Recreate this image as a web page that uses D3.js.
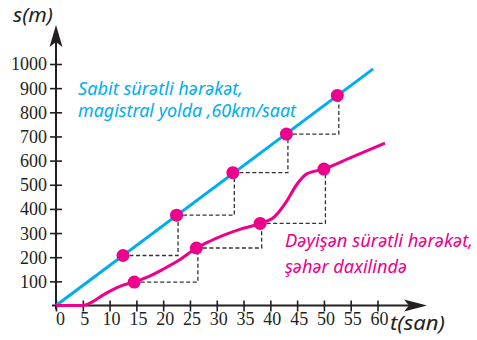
<!DOCTYPE html>
<html>
<head>
<meta charset="utf-8">
<script src="https://cdn.jsdelivr.net/npm/d3@7"></script>
<style>
  html, body { margin: 0; padding: 0; background: #fff; }
  svg { display: block; }
</style>
</head>
<body>
<script>
// ---- data ----
const xTicks = [0, 5, 10, 15, 20, 25, 30, 35, 40, 45, 50, 55, 60];
const yTicks = [100, 200, 300, 400, 500, 600, 700, 800, 900, 1000];

// constant speed line (60 km/h)
const blueLineT = [0, 59.2];
const blueLineS = [0, 980];
const blueDotT = [12.5, 22.5, 33, 43, 52.5];
const blueDotS = [207, 374, 550, 710, 870];

// variable speed curve (city)
const pinkT = [0, 5, 6.8, 8.7, 10.6, 12.4, 14.6, 16.8, 19.9, 23, 26.2, 28.7, 31.2, 34.3, 38.1, 40.8, 43, 44.9, 46.8, 50, 55, 61.4];
const pinkS = [0, 0, 15, 42, 66, 83, 97, 115, 149, 188, 238, 266, 290, 315, 340, 368, 430, 500, 545, 565, 612, 672];
const pinkDotT = [14.6, 26.2, 38.1, 50];
const pinkDotS = [97, 238, 340, 565];

const blueLabel = ["Sabit sürətli hərəkət,", "magistral yolda ,60km/saat"];
const pinkLabel = ["Dəyişən sürətli hərəkət,", "şəhər daxilində"];

// ---- drawing ----
const W = 477, H = 340;
const BLUE = "#00aeef", PINK = "#ec008c", INK = "#231f20";
const svg = d3.select("body").append("svg").attr("width", W).attr("height", H);

const x = d3.scaleLinear().domain([0, 60]).range([56, 377.5]);
const y = d3.scaleLinear().domain([0, 1000]).range([305.5, 64]);

const SERIF = "Liberation Serif, DejaVu Serif, serif";

// axes
const yAxis = d3.axisLeft(y).tickValues(yTicks).tickFormat(d3.format("d")).tickSize(6).tickPadding(3);
const gy = svg.append("g").attr("transform", `translate(${x(0)},0)`).call(yAxis)
  .attr("font-family", SERIF).attr("font-size", 18);
gy.select(".domain").remove();
gy.selectAll(".tick line").attr("x1", -6).attr("x2", 6).attr("stroke", INK).attr("stroke-width", 1.6);
gy.selectAll(".tick text").style("font-family", SERIF).style("font-size", "18px")
  .attr("fill", INK).attr("dy", "0.33em");

const xAxis = d3.axisBottom(x).tickValues(xTicks).tickFormat(d3.format("d")).tickSize(6).tickPadding(1);
const gx = svg.append("g").attr("transform", `translate(0,${y(0)})`).call(xAxis)
  .attr("font-family", SERIF).attr("font-size", 18);
gx.select(".domain").remove();
gx.selectAll(".tick line").attr("y1", -5).attr("y2", 6).attr("stroke", INK).attr("stroke-width", 1.6);
gx.selectAll(".tick text").style("font-family", SERIF).style("font-size", "18px")
  .attr("fill", INK).attr("dx", d => d === 0 ? 4 : 1.5);

// axis lines with arrows
svg.append("line").attr("x1", 52).attr("x2", 420).attr("y1", y(0)).attr("y2", y(0))
  .attr("stroke", INK).attr("stroke-width", 2);
svg.append("line").attr("x1", x(0)).attr("x2", x(0)).attr("y1", y(0) + 4).attr("y2", 32)
  .attr("stroke", INK).attr("stroke-width", 2);
const ax = x(0), ay = y(0);
svg.append("path").attr("fill", INK)
  .attr("d", `M${ax},25 L${ax + 6.5},47 L${ax},42 L${ax - 6.5},47 Z`);
svg.append("path").attr("fill", INK)
  .attr("d", `M427,${ay} L404,${ay - 6} L409,${ay} L404,${ay + 6} Z`);

// axis titles
svg.append("text").attr("x", 13).attr("y", 22).text("s(m)")
  .attr("font-family", "'Noto Sans', sans-serif").attr("font-style", "italic")
  .attr("font-size", 19).attr("fill", INK).attr("textLength", 40).attr("lengthAdjust", "spacingAndGlyphs");
svg.append("text").attr("x", 390).attr("y", 330).text("t(san)")
  .attr("font-family", "'Noto Sans', sans-serif").attr("font-style", "italic")
  .attr("font-size", 19).attr("fill", INK).attr("textLength", 55).attr("lengthAdjust", "spacingAndGlyphs");

// dashed staircases
function stairs(ts, ss) {
  let d = "";
  for (let i = 0; i < ts.length - 1; i++) {
    d += `M${x(ts[i])},${y(ss[i])}H${x(ts[i + 1]) + 1.5}V${y(ss[i + 1])}`;
  }
  return d;
}
svg.append("path").attr("d", stairs(blueDotT, blueDotS)).attr("fill", "none")
  .attr("stroke", "#333").attr("stroke-width", 1.3).attr("stroke-dasharray", "4,2.5");
svg.append("path").attr("d", stairs(pinkDotT, pinkDotS)).attr("fill", "none")
  .attr("stroke", "#333").attr("stroke-width", 1.3).attr("stroke-dasharray", "4,2.5");

// lines
const line = d3.line().x(d => x(d[0])).y(d => y(d[1]));
svg.append("path").datum(blueLineT.map((t, i) => [t, blueLineS[i]]))
  .attr("d", line).attr("fill", "none").attr("stroke", BLUE).attr("stroke-width", 3);
svg.append("path").datum(pinkT.map((t, i) => [t, pinkS[i]]))
  .attr("d", line.curve(d3.curveMonotoneX)).attr("fill", "none").attr("stroke", PINK).attr("stroke-width", 3);

// dots
svg.append("g").selectAll("circle").data(blueDotT.map((t, i) => [t, blueDotS[i]])).join("circle")
  .attr("cx", d => x(d[0])).attr("cy", d => y(d[1])).attr("r", 6.5).attr("fill", PINK);
svg.append("g").selectAll("circle").data(pinkDotT.map((t, i) => [t, pinkDotS[i]])).join("circle")
  .attr("cx", d => x(d[0])).attr("cy", d => y(d[1])).attr("r", 6.5).attr("fill", PINK);

// labels
function label(lines, x0, y0, dy, widths, color) {
  lines.forEach((s, i) => {
    svg.append("text").attr("x", x0).attr("y", y0 + i * dy).text(s)
      .attr("font-family", "'Noto Sans', sans-serif").attr("font-style", "italic")
      .attr("font-size", 17.5).attr("fill", color)
      .attr("textLength", widths[i]).attr("lengthAdjust", "spacingAndGlyphs");
  });
}
label(blueLabel, 78, 95, 22, [165, 218], BLUE);
label(pinkLabel, 285, 247, 26, [188, 122], PINK);
</script>
</body>
</html>
